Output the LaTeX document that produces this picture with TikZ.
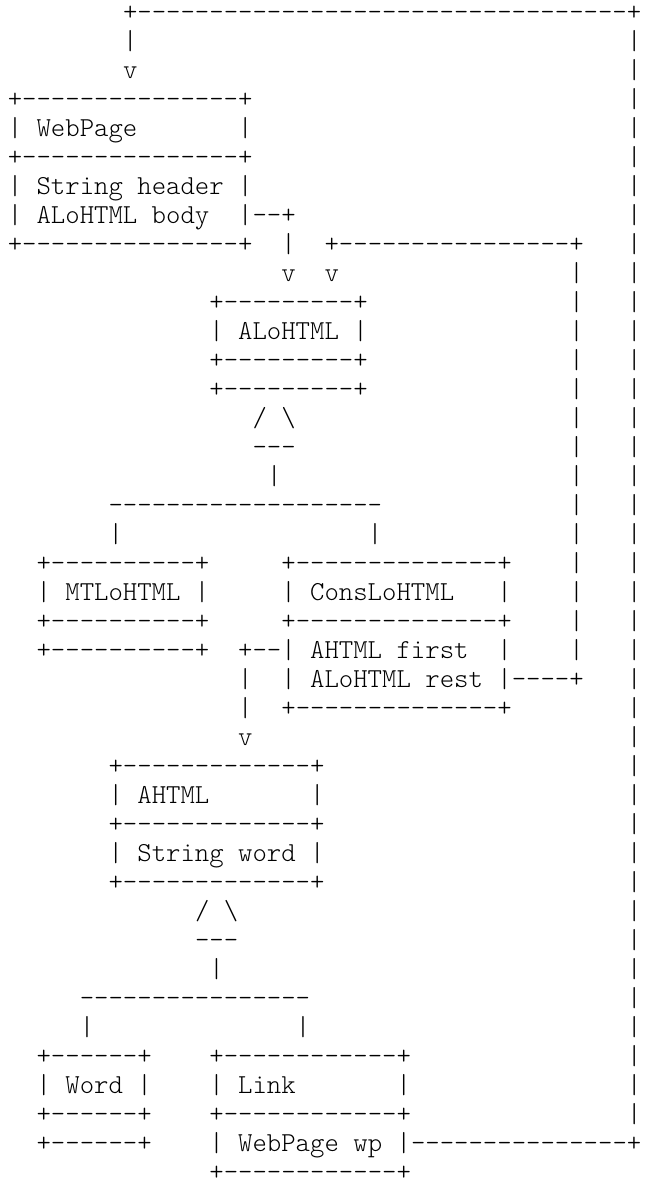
\documentclass[tikz,border=0pt]{standalone}

\newcommand{\asciifont}{\fontfamily{lmtt}\fontseries{l}\fontsize{13.71pt}{14.5pt}\selectfont}
\newcommand{\dashrun}[1]{\foreach \dn in {1,...,#1}{-}}

\begin{document}
\begin{tikzpicture}[x=7.2pt,y=-14.5pt]
  \tikzset{AsciiStyle/.style = {anchor     = base west,
                                inner sep  = 0pt,
                                outer sep  = 0pt,
                                font       = \asciifont}}

\useasboundingbox (-0.542,0.310) rectangle (44.25,41.276);

% Link.wp back to WebPage
\node[AsciiStyle] (loopTop)   at (8,1) {+\dashrun{34}+};
\node[AsciiStyle] (loopIn)    at (8,2) {|};
\node[AsciiStyle] (loopArrow) at (8,3) {v};
\foreach \r in {2,...,39}
  \node[AsciiStyle] (loopBar\r) at (43,\r) {|};
\node[AsciiStyle] (loopOut)   at (28,40) {\dashrun{15}+};

% WebPage
\node[AsciiStyle] (wpTop)    at (0,4) {+\dashrun{15}+};
\node[AsciiStyle] (wpName)   at (0,5) {|~WebPage~~~~~~~|};
\node[AsciiStyle] (wpSep)    at (0,6) {+\dashrun{15}+};
\node[AsciiStyle] (wpHeader) at (0,7) {|~String~header~|};
\node[AsciiStyle] (wpBody)   at (0,8) {|~ALoHTML~body~~|};
\node[AsciiStyle] (wpBot)    at (0,9) {+\dashrun{15}+};

% body
\node[AsciiStyle] (bodyOut)   at (17,8)  {\dashrun{2}+};
\node[AsciiStyle] (bodyBar)   at (19,9)  {|};
\node[AsciiStyle] (bodyArrow) at (19,10) {v};

% ALoHTML
\node[AsciiStyle] (aloTop)  at (14,11) {+\dashrun{9}+};
\node[AsciiStyle] (aloName) at (14,12) {|~ALoHTML~|};
\node[AsciiStyle] (aloSep)  at (14,13) {+\dashrun{9}+};
\node[AsciiStyle] (aloBot)  at (14,14) {+\dashrun{9}+};

\node[AsciiStyle] (aloTri)    at (17,15) {/~\textbackslash};
\node[AsciiStyle] (aloBase)   at (17,16) {\dashrun{3}};
\node[AsciiStyle] (aloStem)   at (18,17) {|};
\node[AsciiStyle] (aloBranch) at (7,18)  {\dashrun{19}};
\node[AsciiStyle] (aloLeft)   at (7,19)  {|};
\node[AsciiStyle] (aloRight)  at (25,19) {|};

% MTLoHTML
\node[AsciiStyle] (mtTop)  at (2,20) {+\dashrun{10}+};
\node[AsciiStyle] (mtName) at (2,21) {|~MTLoHTML~|};
\node[AsciiStyle] (mtSep)  at (2,22) {+\dashrun{10}+};
\node[AsciiStyle] (mtBot)  at (2,23) {+\dashrun{10}+};

% ConsLoHTML
\node[AsciiStyle] (consTop)   at (19,20) {+\dashrun{14}+};
\node[AsciiStyle] (consName)  at (19,21) {|~ConsLoHTML~~~|};
\node[AsciiStyle] (consSep)   at (19,22) {+\dashrun{14}+};
\node[AsciiStyle] (consFirst) at (19,23) {|~AHTML~first~~|};
\node[AsciiStyle] (consRest)  at (19,24) {|~ALoHTML~rest~|};
\node[AsciiStyle] (consBot)   at (19,25) {+\dashrun{14}+};

% first
\node[AsciiStyle] (firstOut) at (16,23) {+\dashrun{2}};
\foreach \r in {24,25}
  \node[AsciiStyle] (firstBar\r) at (16,\r) {|};
\node[AsciiStyle] (firstArrow) at (16,26) {v};

% rest
\node[AsciiStyle] (restOut) at (35,24) {\dashrun{4}+};
\foreach \r in {10,...,23}
  \node[AsciiStyle] (restBar\r) at (39,\r) {|};
\node[AsciiStyle] (restTop)   at (22,9)  {+\dashrun{16}+};
\node[AsciiStyle] (restArrow) at (22,10) {v};

% AHTML
\node[AsciiStyle] (ahTop)  at (7,27) {+\dashrun{13}+};
\node[AsciiStyle] (ahName) at (7,28) {|~AHTML~~~~~~~|};
\node[AsciiStyle] (ahSep)  at (7,29) {+\dashrun{13}+};
\node[AsciiStyle] (ahWord) at (7,30) {|~String~word~|};
\node[AsciiStyle] (ahBot)  at (7,31) {+\dashrun{13}+};

\node[AsciiStyle] (ahTri)    at (13,32) {/~\textbackslash};
\node[AsciiStyle] (ahBase)   at (13,33) {\dashrun{3}};
\node[AsciiStyle] (ahStem)   at (14,34) {|};
\node[AsciiStyle] (ahBranch) at (5,35)  {\dashrun{16}};
\node[AsciiStyle] (ahLeft)   at (5,36)  {|};
\node[AsciiStyle] (ahRight)  at (20,36) {|};

% Word
\node[AsciiStyle] (wordTop)  at (2,37) {+\dashrun{6}+};
\node[AsciiStyle] (wordName) at (2,38) {|~Word~|};
\node[AsciiStyle] (wordSep)  at (2,39) {+\dashrun{6}+};
\node[AsciiStyle] (wordBot)  at (2,40) {+\dashrun{6}+};

% Link
\node[AsciiStyle] (linkTop)  at (14,37) {+\dashrun{12}+};
\node[AsciiStyle] (linkName) at (14,38) {|~Link~~~~~~~|};
\node[AsciiStyle] (linkSep)  at (14,39) {+\dashrun{12}+};
\node[AsciiStyle] (linkWp)   at (14,40) {|~WebPage~wp~|};
\node[AsciiStyle] (linkBot)  at (14,41) {+\dashrun{12}+};
\end{tikzpicture}
\end{document}
